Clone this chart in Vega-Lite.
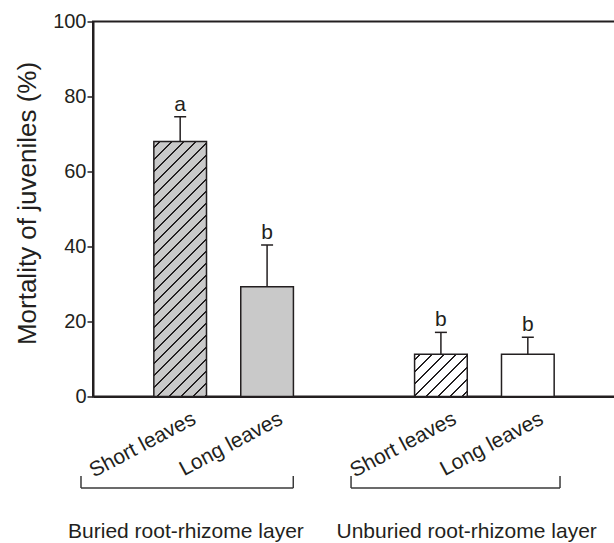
{
  "$schema": "https://vega.github.io/schema/vega-lite/v6.json",
  "width": 522,
  "height": 375,
  "autosize": {"type": "none"},
  "padding": {"left": 93, "top": 21.5, "right": 0, "bottom": 146.5},
  "config": {
    "font": "Liberation Sans",
    "view": {"stroke": "#231f20", "strokeWidth": 2},
    "text": {"color": "#231f20", "font": "Liberation Sans"}
  },
  "datasets": {
    "bars": [
      {"group": "Buried root-rhizome layer", "leaf": "Short leaves", "key": "B-Short", "mortality": 68, "err": 74.6, "letter": "a"},
      {"group": "Buried root-rhizome layer", "leaf": "Long leaves", "key": "B-Long", "mortality": 29.3, "err": 40.4, "letter": "b"},
      {"group": "Unburied root-rhizome layer", "leaf": "Short leaves", "key": "U-Short", "mortality": 11.3, "err": 17.1, "letter": "b"},
      {"group": "Unburied root-rhizome layer", "leaf": "Long leaves", "key": "U-Long", "mortality": 11.3, "err": 15.8, "letter": "b"}
    ],
    "groups": [
      {"group": "Buried root-rhizome layer", "start": -1.138, "end": 1.302, "center": 0.068},
      {"group": "Unburied root-rhizome layer", "start": 1.966, "end": 4.368, "center": 3.295}
    ]
  },
  "layer": [
    {
      "data": {"name": "bars"},
      "encoding": {
        "x": {
          "field": "key",
          "type": "nominal",
          "scale": {"domain": ["B-Short", "B-Long", "gap", "U-Short", "U-Long"], "paddingInner": 0.394, "paddingOuter": 0.7},
          "axis": {
            "title": null,
            "ticks": false,
            "tickSize": 0,
            "labelAngle": -28,
            "labelAlign": "right",
            "labelBaseline": "top",
            "labelPadding": 11,
            "labelOffset": 9,
            "labelFontSize": 21,
            "labelColor": "#231f20",
            "labelOverlap": false,
            "labelFlush": false,
            "labelExpr": "datum.value == 'gap' ? '' : (indexof(datum.value, 'Short') >= 0 ? 'Short leaves' : 'Long leaves')",
            "domainColor": "#231f20",
            "domainWidth": 2
          }
        },
        "y": {
          "field": "mortality",
          "type": "quantitative",
          "scale": {"domain": [0, 100], "nice": false},
          "axis": {
            "title": "Mortality of juveniles (%)",
            "values": [0, 20, 40, 60, 80, 100],
            "grid": false,
            "tickSize": 6,
            "tickWidth": 1.5,
            "tickColor": "#231f20",
            "domainColor": "#231f20",
            "domainWidth": 2,
            "labelFontSize": 20,
            "labelPadding": 1,
            "labelColor": "#231f20",
            "labelFlush": false,
            "titleFontSize": 26,
            "titleFontWeight": "normal",
            "titleColor": "#231f20",
            "titleAngle": -90,
            "titleAlign": "center",
            "titleBaseline": "alphabetic",
            "titleX": -58,
            "titleY": 181.5
          }
        }
      },
      "layer": [
        {
          "transform": [{"filter": "datum.key === 'B-Short'"}],
          "mark": {
            "type": "bar",
            "stroke": "#231f20",
            "strokeWidth": 1.5,
            "fill": {
              "gradient": "linear",
              "x1": 0, "y1": 0, "x2": 0.2392, "y2": 1.1572,
              "stops": [
                {"offset": 0.0165, "color": "#c9c9c9"}, {"offset": 0.0165, "color": "#231f20"}, {"offset": 0.0225, "color": "#231f20"}, {"offset": 0.0225, "color": "#c9c9c9"},
                {"offset": 0.0555, "color": "#c9c9c9"}, {"offset": 0.0555, "color": "#231f20"}, {"offset": 0.0615, "color": "#231f20"}, {"offset": 0.0615, "color": "#c9c9c9"},
                {"offset": 0.0945, "color": "#c9c9c9"}, {"offset": 0.0945, "color": "#231f20"}, {"offset": 0.1005, "color": "#231f20"}, {"offset": 0.1005, "color": "#c9c9c9"},
                {"offset": 0.1335, "color": "#c9c9c9"}, {"offset": 0.1335, "color": "#231f20"}, {"offset": 0.1395, "color": "#231f20"}, {"offset": 0.1395, "color": "#c9c9c9"},
                {"offset": 0.1725, "color": "#c9c9c9"}, {"offset": 0.1725, "color": "#231f20"}, {"offset": 0.1785, "color": "#231f20"}, {"offset": 0.1785, "color": "#c9c9c9"},
                {"offset": 0.2115, "color": "#c9c9c9"}, {"offset": 0.2115, "color": "#231f20"}, {"offset": 0.2175, "color": "#231f20"}, {"offset": 0.2175, "color": "#c9c9c9"},
                {"offset": 0.2505, "color": "#c9c9c9"}, {"offset": 0.2505, "color": "#231f20"}, {"offset": 0.2565, "color": "#231f20"}, {"offset": 0.2565, "color": "#c9c9c9"},
                {"offset": 0.2895, "color": "#c9c9c9"}, {"offset": 0.2895, "color": "#231f20"}, {"offset": 0.2955, "color": "#231f20"}, {"offset": 0.2955, "color": "#c9c9c9"},
                {"offset": 0.3285, "color": "#c9c9c9"}, {"offset": 0.3285, "color": "#231f20"}, {"offset": 0.3345, "color": "#231f20"}, {"offset": 0.3345, "color": "#c9c9c9"},
                {"offset": 0.3675, "color": "#c9c9c9"}, {"offset": 0.3675, "color": "#231f20"}, {"offset": 0.3735, "color": "#231f20"}, {"offset": 0.3735, "color": "#c9c9c9"},
                {"offset": 0.4065, "color": "#c9c9c9"}, {"offset": 0.4065, "color": "#231f20"}, {"offset": 0.4125, "color": "#231f20"}, {"offset": 0.4125, "color": "#c9c9c9"},
                {"offset": 0.4455, "color": "#c9c9c9"}, {"offset": 0.4455, "color": "#231f20"}, {"offset": 0.4515, "color": "#231f20"}, {"offset": 0.4515, "color": "#c9c9c9"},
                {"offset": 0.4845, "color": "#c9c9c9"}, {"offset": 0.4845, "color": "#231f20"}, {"offset": 0.4905, "color": "#231f20"}, {"offset": 0.4905, "color": "#c9c9c9"},
                {"offset": 0.5235, "color": "#c9c9c9"}, {"offset": 0.5235, "color": "#231f20"}, {"offset": 0.5295, "color": "#231f20"}, {"offset": 0.5295, "color": "#c9c9c9"},
                {"offset": 0.5625, "color": "#c9c9c9"}, {"offset": 0.5625, "color": "#231f20"}, {"offset": 0.5685, "color": "#231f20"}, {"offset": 0.5685, "color": "#c9c9c9"},
                {"offset": 0.6015, "color": "#c9c9c9"}, {"offset": 0.6015, "color": "#231f20"}, {"offset": 0.6075, "color": "#231f20"}, {"offset": 0.6075, "color": "#c9c9c9"},
                {"offset": 0.6405, "color": "#c9c9c9"}, {"offset": 0.6405, "color": "#231f20"}, {"offset": 0.6465, "color": "#231f20"}, {"offset": 0.6465, "color": "#c9c9c9"},
                {"offset": 0.6795, "color": "#c9c9c9"}, {"offset": 0.6795, "color": "#231f20"}, {"offset": 0.6855, "color": "#231f20"}, {"offset": 0.6855, "color": "#c9c9c9"},
                {"offset": 0.7185, "color": "#c9c9c9"}, {"offset": 0.7185, "color": "#231f20"}, {"offset": 0.7245, "color": "#231f20"}, {"offset": 0.7245, "color": "#c9c9c9"},
                {"offset": 0.7575, "color": "#c9c9c9"}, {"offset": 0.7575, "color": "#231f20"}, {"offset": 0.7635, "color": "#231f20"}, {"offset": 0.7635, "color": "#c9c9c9"},
                {"offset": 0.7965, "color": "#c9c9c9"}, {"offset": 0.7965, "color": "#231f20"}, {"offset": 0.8025, "color": "#231f20"}, {"offset": 0.8025, "color": "#c9c9c9"},
                {"offset": 0.8355, "color": "#c9c9c9"}, {"offset": 0.8355, "color": "#231f20"}, {"offset": 0.8415, "color": "#231f20"}, {"offset": 0.8415, "color": "#c9c9c9"},
                {"offset": 0.8745, "color": "#c9c9c9"}, {"offset": 0.8745, "color": "#231f20"}, {"offset": 0.8805, "color": "#231f20"}, {"offset": 0.8805, "color": "#c9c9c9"},
                {"offset": 0.9135, "color": "#c9c9c9"}, {"offset": 0.9135, "color": "#231f20"}, {"offset": 0.9195, "color": "#231f20"}, {"offset": 0.9195, "color": "#c9c9c9"},
                {"offset": 0.9525, "color": "#c9c9c9"}, {"offset": 0.9525, "color": "#231f20"}, {"offset": 0.9585, "color": "#231f20"}, {"offset": 0.9585, "color": "#c9c9c9"},
                {"offset": 0.9915, "color": "#c9c9c9"}, {"offset": 0.9915, "color": "#231f20"}, {"offset": 0.9975, "color": "#231f20"}, {"offset": 0.9975, "color": "#c9c9c9"}
              ]
            }
          }
        },
        {
          "transform": [{"filter": "datum.key === 'U-Short'"}],
          "mark": {
            "type": "bar",
            "stroke": "#231f20",
            "strokeWidth": 1.5,
            "fill": {
              "gradient": "linear",
              "x1": 0, "y1": 0, "x2": 1.0955, "y2": 0.8814,
              "stops": [
                {"offset": 0.0536, "color": "#ffffff"}, {"offset": 0.0536, "color": "#231f20"}, {"offset": 0.0726, "color": "#231f20"}, {"offset": 0.0726, "color": "#ffffff"},
                {"offset": 0.1798, "color": "#ffffff"}, {"offset": 0.1798, "color": "#231f20"}, {"offset": 0.1988, "color": "#231f20"}, {"offset": 0.1988, "color": "#ffffff"},
                {"offset": 0.306, "color": "#ffffff"}, {"offset": 0.306, "color": "#231f20"}, {"offset": 0.325, "color": "#231f20"}, {"offset": 0.325, "color": "#ffffff"},
                {"offset": 0.4322, "color": "#ffffff"}, {"offset": 0.4322, "color": "#231f20"}, {"offset": 0.4512, "color": "#231f20"}, {"offset": 0.4512, "color": "#ffffff"},
                {"offset": 0.5584, "color": "#ffffff"}, {"offset": 0.5584, "color": "#231f20"}, {"offset": 0.5774, "color": "#231f20"}, {"offset": 0.5774, "color": "#ffffff"},
                {"offset": 0.6846, "color": "#ffffff"}, {"offset": 0.6846, "color": "#231f20"}, {"offset": 0.7036, "color": "#231f20"}, {"offset": 0.7036, "color": "#ffffff"},
                {"offset": 0.8108, "color": "#ffffff"}, {"offset": 0.8108, "color": "#231f20"}, {"offset": 0.8298, "color": "#231f20"}, {"offset": 0.8298, "color": "#ffffff"},
                {"offset": 0.937, "color": "#ffffff"}, {"offset": 0.937, "color": "#231f20"}, {"offset": 0.956, "color": "#231f20"}, {"offset": 0.956, "color": "#ffffff"}
              ]
            }
          }
        },
        {
          "transform": [{"filter": "datum.key === 'B-Long' || datum.key === 'U-Long'"}],
          "mark": {"type": "bar", "stroke": "#231f20", "strokeWidth": 1.5},
          "encoding": {
            "fill": {"condition": {"test": "datum.key === 'B-Long'", "value": "#c9c9c9"}, "value": "#ffffff"}
          }
        },
        {
          "mark": {"type": "rule", "stroke": "#231f20", "strokeWidth": 1.5},
          "encoding": {"y2": {"field": "err"}}
        },
        {
          "mark": {"type": "tick", "orient": "horizontal", "size": 12, "thickness": 1.5, "color": "#231f20", "opacity": 1},
          "encoding": {"y": {"field": "err", "type": "quantitative", "scale": {"domain": [0, 100], "nice": false}}}
        },
        {
          "mark": {"type": "text", "baseline": "alphabetic", "align": "center", "dy": -6, "fontSize": 21, "color": "#231f20"},
          "encoding": {
            "y": {"field": "err", "type": "quantitative", "scale": {"domain": [0, 100], "nice": false}},
            "text": {"field": "letter"}
          }
        }
      ]
    },
    {
      "data": {"name": "groups"},
      "layer": [
        {
          "mark": {"type": "rule", "stroke": "#3a3a3a", "strokeWidth": 1.5},
          "encoding": {
            "x": {"field": "start", "type": "quantitative", "scale": {"domain": [-1, 5], "nice": false, "zero": false}, "axis": null},
            "x2": {"field": "end"},
            "y": {"datum": -24.4, "type": "quantitative", "scale": {"domain": [0, 100], "nice": false}}
          }
        },
        {
          "mark": {"type": "rule", "stroke": "#3a3a3a", "strokeWidth": 1.5},
          "encoding": {
            "x": {"field": "start", "type": "quantitative", "scale": {"domain": [-1, 5], "nice": false, "zero": false}, "axis": null},
            "y": {"datum": -24.4, "type": "quantitative", "scale": {"domain": [0, 100], "nice": false}},
            "y2": {"datum": -21.2}
          }
        },
        {
          "mark": {"type": "rule", "stroke": "#3a3a3a", "strokeWidth": 1.5},
          "encoding": {
            "x": {"field": "end", "type": "quantitative", "scale": {"domain": [-1, 5], "nice": false, "zero": false}, "axis": null},
            "y": {"datum": -24.4, "type": "quantitative", "scale": {"domain": [0, 100], "nice": false}},
            "y2": {"datum": -21.2}
          }
        },
        {
          "mark": {"type": "text", "baseline": "alphabetic", "align": "center", "fontSize": 21, "color": "#231f20"},
          "encoding": {
            "x": {"field": "center", "type": "quantitative", "scale": {"domain": [-1, 5], "nice": false, "zero": false}, "axis": null},
            "y": {"datum": -37.7, "type": "quantitative", "scale": {"domain": [0, 100], "nice": false}},
            "text": {"field": "group"}
          }
        }
      ]
    }
  ],
  "resolve": {"scale": {"x": "independent"}}
}
